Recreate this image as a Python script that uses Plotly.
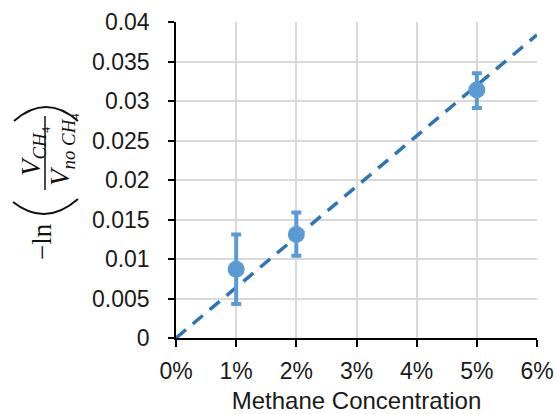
import plotly.graph_objects as go

# data
conc = [0.01, 0.02, 0.05]
values = [0.0087, 0.0131, 0.0314]
err_plus = [0.0044, 0.0028, 0.0021]
err_minus = [0.0044, 0.0027, 0.0023]
x_ticks = [0, 0.01, 0.02, 0.03, 0.04, 0.05, 0.06]
y_ticks = [0, 0.005, 0.01, 0.015, 0.02, 0.025, 0.03, 0.035, 0.04]

# trendline through origin (least squares)
slope = sum(a * b for a, b in zip(conc, values)) / sum(a * a for a in conc)
trend_x = [0, 0.06]
trend_y = [slope * v for v in trend_x]

W, H = 557, 414
L, R, T, B = 176, 20, 22, 76
pw, ph = W - L - R, H - T - B

def px(x):
    return (x - L) / pw

def py(y):
    return (H - B - y) / ph

fig = go.Figure()
fig.add_trace(go.Scatter(
    x=trend_x, y=trend_y, mode="lines",
    line=dict(color="#2E75B6", width=3.5, dash="13px,9px"),
    hoverinfo="skip", showlegend=False))
fig.add_trace(go.Scatter(
    x=conc, y=values, mode="markers",
    marker=dict(size=17, color="#5B9BD5"),
    error_y=dict(type="data", symmetric=False, array=err_plus, arrayminus=err_minus,
                 color="#5B9BD5", thickness=4, width=5),
    showlegend=False))

tick_font = dict(family="Liberation Sans, Arial, sans-serif", size=23, color="#1a1a1a")
title_font = dict(family="Liberation Sans, Arial, sans-serif", size=24, color="#1a1a1a")
fig.update_layout(
    width=W, height=H,
    margin=dict(l=L, r=R, t=T, b=B, autoexpand=False),
    paper_bgcolor="white", plot_bgcolor="white",
    font=tick_font,
    xaxis=dict(range=[0, 0.06], tickvals=x_ticks, tickformat=".0%",
               automargin=False,
               showgrid=True, gridcolor="#d9d9d9", gridwidth=1.5,
               showline=True, linecolor="#000", linewidth=1.5,
               ticks="outside", ticklen=7, tickwidth=1.5, tickcolor="#000",
               ticklabelstandoff=5,
               zeroline=False, tickfont=tick_font,
               title=dict(text="Methane Concentration", font=title_font, standoff=10)),
    yaxis=dict(range=[0, 0.04], tickvals=y_ticks,
               automargin=False,
               showgrid=True, gridcolor="#d9d9d9", gridwidth=1.5,
               showline=True, linecolor="#000", linewidth=1.5,
               ticks="outside", ticklen=6, tickwidth=1.5, tickcolor="#000",
               ticklabelstandoff=14,
               zeroline=False, tickfont=tick_font),
)

# y-axis title: -ln( V_CH4 / V_no CH4 ), built from rotated text pieces
serif = "Liberation Serif, Times New Roman, serif"
ann = [
    dict(text="−ln", x=42, y=242, size=27),
    dict(text="<i>V</i><sub><i>CH</i>₄</sub>", x=33, y=152, size=27),
    dict(text="<i>V</i><sub><i>no CH</i>₄</sub>", x=62, y=150, size=27),
]
for a in ann:
    fig.add_annotation(text=a["text"], x=px(a["x"]), y=py(a["y"]), xref="paper", yref="paper",
                       showarrow=False, textangle=-90, xanchor="center", yanchor="middle",
                       font=dict(family=serif, size=a["size"], color="#111"))
# fraction bar
fig.add_shape(type="line", xref="paper", yref="paper",
              x0=px(45), x1=px(45), y0=py(116), y1=py(190),
              line=dict(color="#111", width=1.5))

# parentheses as arcs
def arc(x0, y0, x1, y1, ybulge):
    xm = (x0 + x1) / 2
    yc = 2 * ybulge - (y0 + y1) / 2
    return "M {:.4f},{:.4f} Q {:.4f},{:.4f} {:.4f},{:.4f}".format(
        px(x0), py(y0), px(xm), py(yc), px(x1), py(y1))

fig.add_shape(type="path", xref="paper", yref="paper",
              path=arc(14, 121, 78, 121, 107), line=dict(color="#111", width=2))
fig.add_shape(type="path", xref="paper", yref="paper",
              path=arc(13, 202, 78, 199, 214), line=dict(color="#111", width=2))

fig.write_html("out.html")
